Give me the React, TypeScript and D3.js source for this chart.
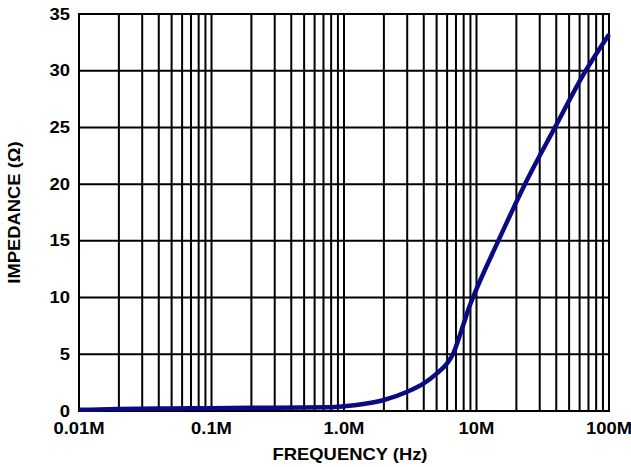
import React from "react";
import * as d3 from "d3";

const freqMHz = [0.01, 0.02, 0.05, 0.1, 0.2, 0.5, 0.78, 1.0, 1.4, 2.0, 3.0, 4.0, 5.0, 6.0, 6.7, 7.3, 8.0, 8.9, 9.4, 14.6, 23.2, 39.1, 66.7, 100];
const impedance = [0.1, 0.17, 0.22, 0.25, 0.28, 0.31, 0.33, 0.42, 0.62, 0.97, 1.7, 2.44, 3.3, 4.2, 5.1, 6.3, 7.7, 9.3, 10.0, 15, 20, 25, 30, 33.2];

const xTickValues = [0.01, 0.1, 1, 10, 100];
const xTickLabels = ["0.01M", "0.1M", "1.0M", "10M", "100M"];
const yTickValues = [0, 5, 10, 15, 20, 25, 30, 35];

const W = 631, H = 467;
const L = 79, R = 609, T = 14, B = 411;
const FONT = "'Liberation Sans', Arial, sans-serif";
const SX = 1.15;

function T2({ x, y, anchor, children, rotate }: any) {
  const tr = rotate ? `translate(${x},${y}) rotate(-90) scale(${SX},1)` : `translate(${x},${y}) scale(${SX},1)`;
  return (
    <text transform={tr} textAnchor={anchor} fontFamily={FONT} fontWeight="bold" fontSize={16} fill="#000">
      {children}
    </text>
  );
}

export default function App() {
  const x = d3.scaleLog().domain([0.01, 100]).range([L, R]);
  const y = d3.scaleLinear().domain([0, 35]).range([B, T]);

  const minor: number[] = [];
  for (let d = 0.01; d < 100; d *= 10) {
    for (let k = 1; k <= 9; k++) minor.push(d * k);
  }
  minor.push(100);

  const line = d3
    .line<number>()
    .x((_, i) => x(freqMHz[i]))
    .y((v) => y(v))
    .curve(d3.curveMonotoneX);

  return (
    <svg width={W} height={H} style={{ position: "absolute", left: 0, top: 0, background: "#fff" }}>
      <rect x={0} y={0} width={W} height={H} fill="#fff" />
      {minor.map((f, i) => (
        <line key={"v" + i} x1={x(f)} x2={x(f)} y1={T} y2={B} stroke="#000" strokeWidth={2} />
      ))}
      {yTickValues.map((v) => (
        <line key={"h" + v} x1={L} x2={R} y1={y(v)} y2={y(v)} stroke="#000" strokeWidth={2} />
      ))}
      <rect x={L} y={T} width={R - L} height={B - T} fill="none" stroke="#000" strokeWidth={2} />
      <path d={line(impedance) || ""} fill="none" stroke="#0a0a84" strokeWidth={4.5} strokeLinecap="butt" strokeLinejoin="round" />
      {yTickValues.map((v) => (
        <T2 key={"yl" + v} x={70} y={y(v) + 5.5} anchor="end">
          {String(v)}
        </T2>
      ))}
      {xTickValues.map((f, i) => (
        <T2 key={"xl" + i} x={x(f)} y={434} anchor="middle">
          {xTickLabels[i]}
        </T2>
      ))}
      <T2 x={350} y={460} anchor="middle">FREQUENCY (Hz)</T2>
      <T2 x={20} y={212.5} anchor="middle" rotate>
        IMPEDANCE (Ω)
      </T2>
    </svg>
  );
}
